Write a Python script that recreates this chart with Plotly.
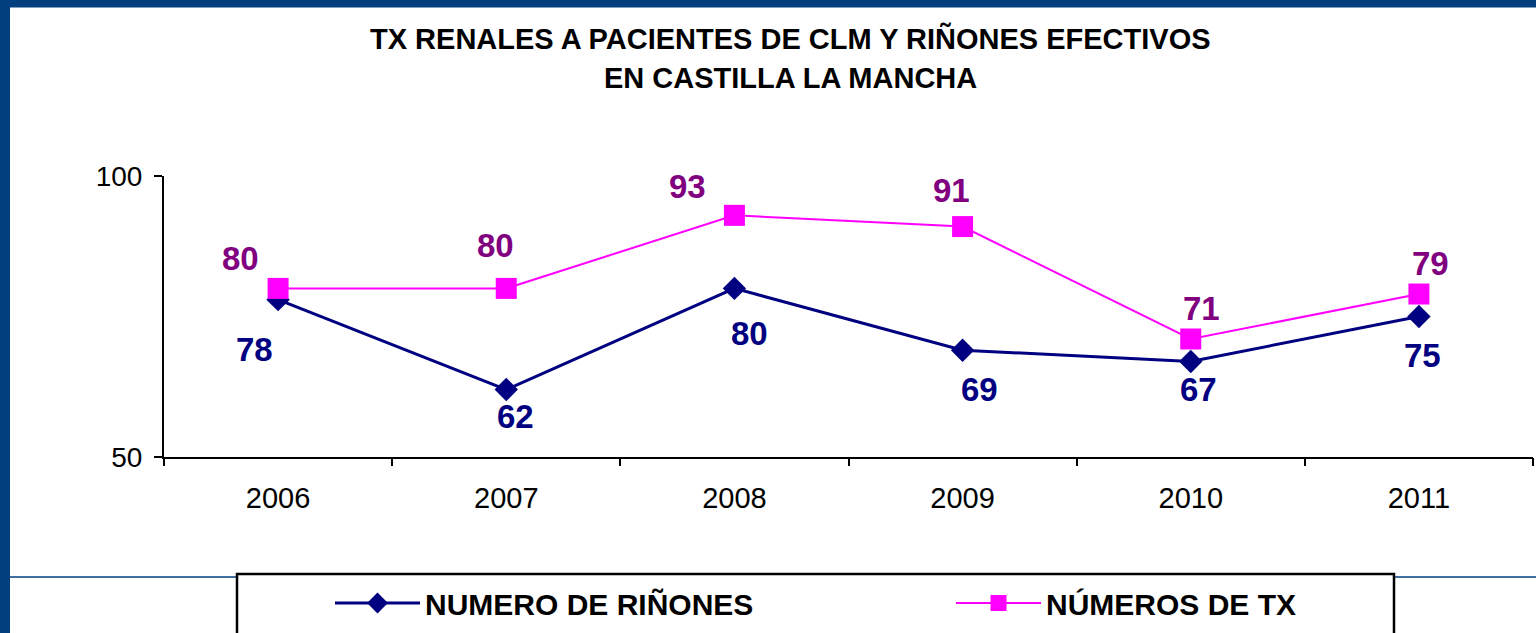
import plotly.graph_objects as go

years = ["2006", "2007", "2008", "2009", "2010", "2011"]
rinones = [78, 62, 80, 69, 67, 75]
tx = [80, 80, 93, 91, 71, 79]
series_names = ["NUMERO DE RIÑONES", "NÚMEROS DE TX"]
y_ticks = [50, 100]
title_lines = ["TX RENALES A PACIENTES DE CLM Y RIÑONES EFECTIVOS", "EN CASTILLA LA MANCHA"]

# label offsets (px) - styling only
tx_dx = [-38, -11, -47, -11, 11, 12]
tx_dy = [30, 43, 29, 36, 30, 31]
ri_dx = [-24, 9, 15, 17, 8, 4]
ri_dy = [-50, -27, -45, -39, -28, -39]

W, H = 1536, 633
L, R, T, B = 164, 3, 176, 176
PW = W - L - R
PH = H - T - B

def px(xp):
    return (xp - L) / PW

def py(yp):
    return (H - B - yp) / PH

FONT = "Liberation Sans, Arial, sans-serif"
NAVY = "#000080"
MAG = "#FF00FF"
PURP = "#800080"

fig = go.Figure()
fig.add_trace(go.Scatter(
    x=list(range(len(years))), y=rinones, name=series_names[0], mode="lines+markers",
    line=dict(color=NAVY, width=3),
    marker=dict(symbol="diamond", size=18, color=NAVY),
    legend="legend",
))
fig.add_trace(go.Scatter(
    x=list(range(len(years))), y=tx, name=series_names[1], mode="lines+markers",
    line=dict(color=MAG, width=2),
    marker=dict(symbol="square", size=21, color=MAG),
    legend="legend2",
))

annotations = []
for i in range(len(years)):
    annotations.append(dict(x=i, y=tx[i], xref="x", yref="y", text=str(tx[i]),
                            showarrow=False, xshift=tx_dx[i], yshift=tx_dy[i],
                            font=dict(family=FONT, size=33, color=PURP, weight="bold")))
    annotations.append(dict(x=i, y=rinones[i], xref="x", yref="y", text=str(rinones[i]),
                            showarrow=False, xshift=ri_dx[i], yshift=ri_dy[i],
                            font=dict(family=FONT, size=33, color=NAVY, weight="bold")))
for t, yc in zip(title_lines, [38, 78]):
    annotations.append(dict(x=px(790), y=py(yc), xref="paper", yref="paper", text=t,
                            showarrow=False, xanchor="center", yanchor="middle",
                            font=dict(family=FONT, size=29, color="black", weight="bold")))

shapes = [
    dict(type="rect", xref="paper", yref="paper", x0=px(-5), x1=px(10), y0=py(640), y1=py(-5),
         fillcolor="#023F7F", line=dict(width=0), layer="below"),
    dict(type="rect", xref="paper", yref="paper", x0=px(-5), x1=px(1540), y0=py(7.5), y1=py(-5),
         fillcolor="#023F7F", line=dict(width=0), layer="below"),
    dict(type="line", xref="paper", yref="paper", x0=px(10), x1=px(1540), y0=py(577), y1=py(577),
         line=dict(color="#023F7F", width=1.5), layer="below"),
    dict(type="rect", xref="paper", yref="paper", x0=px(237), x1=px(1394), y0=py(660), y1=py(574),
         fillcolor="white", line=dict(color="black", width=2.5), layer="below"),
]

legend_font = dict(family=FONT, size=30, color="black", weight="bold")
fig.update_layout(
    width=W, height=H,
    margin=dict(l=L, r=R, t=T, b=B),
    paper_bgcolor="white", plot_bgcolor="white",
    showlegend=True,
    legend=dict(orientation="h", x=px(330), y=py(603), xanchor="left", yanchor="middle",
                itemwidth=85, font=legend_font, bgcolor="rgba(0,0,0,0)", borderwidth=0),
    legend2=dict(orientation="h", x=px(951), y=py(603), xanchor="left", yanchor="middle",
                 itemwidth=85, font=legend_font, bgcolor="rgba(0,0,0,0)", borderwidth=0),
    xaxis=dict(range=[-0.5, 5.5], tickvals=list(range(len(years))), ticktext=years,
               showline=True, linecolor="black", linewidth=2,
               ticks="", showgrid=False, zeroline=False, ticklabelstandoff=14,
               tickfont=dict(family=FONT, size=29, color="black")),
    xaxis2=dict(range=[-0.5, 5.5], overlaying="x", anchor="y", side="bottom",
                tickvals=[k - 0.5 for k in range(len(years) + 1)], showticklabels=False,
                ticks="outside", ticklen=8, tickwidth=2, tickcolor="black",
                showgrid=False, zeroline=False, showline=False),
    yaxis=dict(range=[50, 100], tickvals=y_ticks, showline=True, linecolor="black", linewidth=2,
               ticks="outside", ticklen=8, tickwidth=2, tickcolor="black",
               showgrid=False, zeroline=False, ticklabelstandoff=6,
               tickfont=dict(family=FONT, size=28, color="black")),
    annotations=annotations,
    shapes=shapes,
)
# dummy invisible trace so xaxis2 (boundary ticks) is drawn
fig.add_trace(go.Scatter(x=[0], y=[50], xaxis="x2", yaxis="y", mode="markers",
                         marker=dict(opacity=0), showlegend=False, hoverinfo="skip"))

fig.write_html("out.html", config={"displayModeBar": False},
               post_script="document.body.style.margin='0px';")
